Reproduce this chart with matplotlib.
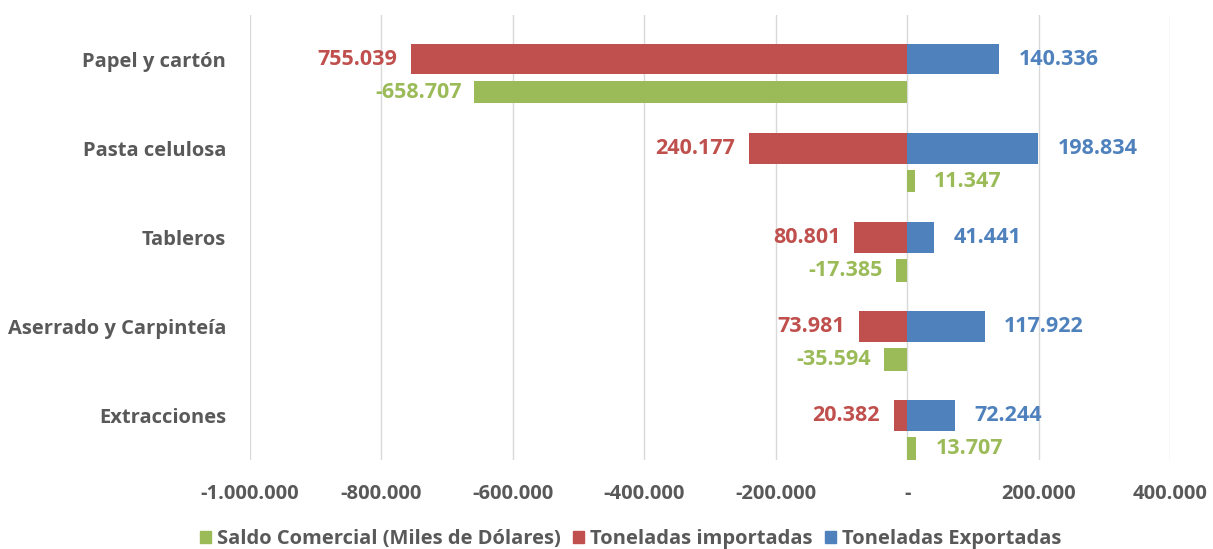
import matplotlib
matplotlib.use("Agg")
import matplotlib.pyplot as plt
from matplotlib.ticker import FuncFormatter
from matplotlib.patches import Patch
import numpy as np

# datos
categorias = ["Papel y cartón", "Pasta celulosa", "Tableros",
              "Aserrado y Carpinteía", "Extracciones"]
saldo = [-658707, 11347, -17385, -35594, 13707]
importadas = [-755039, -240177, -80801, -73981, -20382]
exportadas = [140336, 198834, 41441, 117922, 72244]

verde = "#9BBB59"
rojo = "#C0504D"
azul = "#4F81BD"
gris = "#595959"

plt.rcParams["font.family"] = ["Open Sans", "DejaVu Sans"]
plt.rcParams["font.weight"] = "bold"


def miles(v, pos=None):
    if v == 0:
        return "-"
    s = f"{abs(v):,.0f}".replace(",", ".")
    return ("-" if v < 0 else "") + s


fig = plt.figure(figsize=(12.13, 5.49), dpi=100)
ax = fig.add_axes([0.206, 0.162, 0.7586, 0.811])

y = np.arange(len(categorias))
ax.barh(y, importadas, height=0.34, color=rojo, zorder=3)
ax.barh(y, exportadas, height=0.34, color=azul, zorder=3)
ax.barh(y + 0.37, saldo, height=0.25, color=verde, zorder=3)

# etiquetas de datos
fs = 15.5
for i in range(len(categorias)):
    ax.annotate(miles(-importadas[i]), (importadas[i], y[i]), xytext=(-10, 0),
                textcoords="offset points", ha="right", va="center",
                color=rojo, fontsize=fs, fontweight="bold")
    ax.annotate(miles(exportadas[i]), (exportadas[i], y[i]), xytext=(14, 0),
                textcoords="offset points", ha="left", va="center",
                color=azul, fontsize=fs, fontweight="bold")
    if saldo[i] < 0:
        ax.annotate(miles(saldo[i]), (saldo[i], y[i] + 0.37), xytext=(-9, 0),
                    textcoords="offset points", ha="right", va="center",
                    color=verde, fontsize=fs, fontweight="bold")
    else:
        ax.annotate(miles(saldo[i]), (saldo[i], y[i] + 0.37), xytext=(14, 0),
                    textcoords="offset points", ha="left", va="center",
                    color=verde, fontsize=fs, fontweight="bold")

ax.set_xlim(-1000000, 400000)
ax.set_ylim(4.5, -0.5)
ax.set_xticks(np.arange(-1000000, 400001, 200000))
ax.xaxis.set_major_formatter(FuncFormatter(miles))
ax.set_yticks(y)
ax.set_yticklabels(categorias)
ax.tick_params(axis="x", length=0, pad=17, labelsize=14.5, labelcolor=gris)
ax.tick_params(axis="y", length=0, pad=17, labelsize=14.5, labelcolor=gris)
for lab in ax.get_xticklabels() + ax.get_yticklabels():
    lab.set_fontweight("bold")
ax.grid(axis="x", color="#D9D9D9", linewidth=1, zorder=0)
for s in ax.spines.values():
    s.set_visible(False)

handles = [Patch(color=verde, label="Saldo Comercial (Miles de Dólares)"),
           Patch(color=rojo, label="Toneladas importadas"),
           Patch(color=azul, label="Toneladas Exportadas")]
leg = fig.legend(handles=handles, loc="center", bbox_to_anchor=(0.52, 0.018),
                 ncol=3, frameon=False, fontsize=14.5, handlelength=0.55,
                 handleheight=0.55, handletextpad=0.3, columnspacing=0.6)
for t in leg.get_texts():
    t.set_color(gris)
    t.set_fontweight("bold")

fig.savefig("out.png", dpi=100)
